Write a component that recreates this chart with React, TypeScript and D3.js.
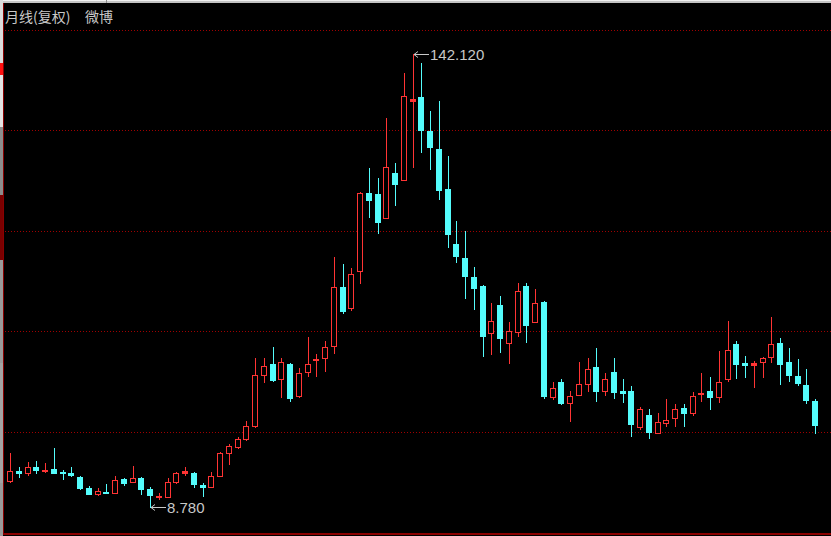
import React from 'react';
import * as d3 from 'd3';

const W = 831;
const H = 536;

// Monthly OHLC, split-adjusted (复权)
const openPrices = [
  16.43, 19.46, 18.88, 20.55, 19.38, 20.05, 18.99, 18.88, 17.52, 14.28,
  12.61, 13.28, 12.99, 16.93, 16.23, 17.23, 13.99, 11.64, 11.81, 16.23,
  18.88, 18.7, 15.26, 14.76, 17.99, 24.76, 26.53, 28.71, 32.62, 47.55,
  50.78, 46.37, 50.78, 41.54, 48.61, 51.96, 52.73, 56.26, 73.54, 67.44,
  78.25, 101.12, 100.82, 93.94, 107.0, 105.03, 128.2, 129.37, 119.54, 114.16,
  102.29, 86.11, 81.99, 76.48, 73.92, 60.09, 68.33, 57.14, 60.38, 73.92,
  63.32, 69.12, 41.25, 45.57, 39.48, 41.66, 44.99, 49.99, 43.07, 48.58,
  43.01, 43.01, 32.24, 35.95, 30.65, 33.51, 34.98, 37.83, 36.36, 41.95,
  42.92, 41.25, 46.37, 56.67, 51.08, 50.58, 51.55, 53.02, 56.97, 51.46,
  47.34, 44.78, 40.07,
];
const highPrices = [
  24.59, 20.64, 22.11, 22.41, 21.64, 26.06, 19.67, 20.47, 17.99, 14.96,
  14.28, 15.46, 17.9, 17.4, 20.94, 17.52, 14.76, 12.81, 17.23, 19.17,
  20.47, 19.17, 15.93, 19.17, 24.88, 27.32, 29.47, 34.18, 52.55, 52.55,
  55.88, 52.55, 51.08, 49.61, 58.73, 53.73, 57.73, 82.28, 80.22, 79.04,
  101.41, 108.48, 105.53, 123.19, 109.95, 136.44, 142.12, 139.38, 125.43, 128.37,
  112.19, 93.05, 90.11, 79.34, 74.0, 68.74, 70.98, 63.15, 74.63, 74.63,
  72.86, 69.5, 45.57, 46.37, 42.92, 51.46, 52.55, 55.49, 48.13, 52.55,
  46.37, 44.4, 38.13, 37.54, 36.36, 40.48, 39.01, 39.01, 42.63, 48.13,
  46.96, 54.79, 63.53, 57.73, 53.32, 51.84, 52.84, 64.79, 58.44, 55.49,
  52.26, 49.31, 40.48,
];
const lowPrices = [
  16.14, 17.7, 18.2, 18.7, 19.17, 18.8, 16.93, 17.9, 13.99, 12.61,
  12.31, 12.95, 12.95, 15.26, 16.15, 12.61, 8.78, 11.05, 11.64, 15.93,
  18.2, 14.76, 12.02, 14.7, 17.95, 21.44, 26.06, 28.5, 32.42, 45.66,
  45.9, 41.25, 40.07, 41.25, 47.34, 47.43, 48.9, 54.02, 65.8, 66.77,
  74.8, 94.23, 89.52, 93.8, 97.67, 104.9, 108.95, 113.36, 108.18, 99.35,
  85.4, 80.98, 70.39, 66.97, 53.32, 53.82, 54.49, 51.25, 59.2, 57.44,
  63.2, 40.95, 40.57, 39.01, 34.18, 41.6, 43.01, 40.07, 41.89, 40.86,
  39.77, 29.68, 31.65, 29.18, 30.6, 32.62, 32.62, 32.62, 35.86, 40.07,
  37.54, 39.77, 45.96, 46.66, 47.13, 44.19, 47.13, 51.55, 44.9, 45.96,
  44.6, 39.48, 30.65,
];
const closePrices = [
  19.38, 18.88, 20.47, 19.58, 19.67, 18.88, 18.7, 18.11, 14.28, 12.69,
  13.58, 12.99, 16.73, 15.76, 17.23, 13.99, 12.22, 11.93, 16.05, 18.7,
  19.38, 15.46, 14.76, 17.9, 24.59, 26.74, 28.71, 32.62, 47.63, 50.28,
  46.07, 51.37, 40.78, 48.13, 50.78, 52.26, 55.79, 73.45, 66.56, 77.28,
  101.12, 99.15, 92.76, 108.77, 103.86, 129.76, 128.79, 119.75, 114.83, 102.0,
  89.14, 82.75, 76.86, 73.33, 59.2, 63.53, 58.61, 60.59, 72.36, 62.35,
  68.74, 41.54, 43.72, 39.3, 41.45, 44.9, 49.31, 43.01, 46.37, 42.72,
  42.42, 33.21, 37.54, 30.94, 33.71, 34.48, 37.54, 36.45, 41.45, 42.25,
  41.25, 45.57, 54.99, 50.78, 50.49, 51.17, 52.55, 56.67, 50.87, 47.55,
  45.19, 40.28, 32.83,
];

// Horizontal guide levels of the price pane
const gridLevels = [30.86, 60.59, 90.02, 119.75, 149.19];

const periodLabel = '月线(复权)';
const stockName = '微博';

const UP = '#ff3434';
const DOWN = '#54fcfc';
const GRID = '#a00000';
const FRAME = '#8a0000';
const TEXT = '#c8c8c8';

// Strip of the neighbouring panel along the left edge
const edgeSegments = [
  { y0: 0, y1: 63, fill: '#dcdcdc' },
  { y0: 63, y1: 75, fill: '#ff1010' },
  { y0: 75, y1: 127, fill: '#e4e4e4' },
  { y0: 127, y1: 195, fill: '#8c8c8c' },
  { y0: 195, y1: 260, fill: '#7a0000' },
  { y0: 260, y1: 363, fill: '#9a9a9a' },
  { y0: 363, y1: 483, fill: '#a4a4a4' },
  { y0: 483, y1: 536, fill: '#9a9a9a' },
];

export default function App() {
  const idx = d3.range(openPrices.length);
  const x = d3.scalePoint<number>().domain(idx).range([10, 815]);
  const y = d3.scaleLinear().domain([8.78, 142.12]).range([507, 54]);
  const fmt = d3.format('.3f');

  const hiIdx = d3.maxIndex(highPrices);
  const loIdx = d3.minIndex(lowPrices);

  const candles = idx.map((i) => {
    const o = openPrices[i];
    const c = closePrices[i];
    const h = highPrices[i];
    const l = lowPrices[i];
    const up = c >= o;
    const cx = Math.round(x(i) as number);
    const yTop = Math.round(y(Math.max(o, c)));
    const yBot = Math.round(y(Math.min(o, c)));
    const yH = Math.round(y(h));
    const yL = Math.round(y(l));
    const color = up ? UP : DOWN;
    const flat = yBot - yTop <= 2;
    return (
      <g key={i}>
        <line x1={cx + 0.5} x2={cx + 0.5} y1={yH} y2={yL + 1} stroke={color} strokeWidth={1} />
        {up && !flat ? (
          <rect
            x={cx - 2.5}
            y={yTop + 0.5}
            width={5}
            height={yBot - yTop}
            fill="#000"
            stroke={color}
            strokeWidth={1}
          />
        ) : (
          <rect x={cx - 3} y={yTop} width={6} height={Math.max(2, yBot - yTop + 1)} fill={color} />
        )}
      </g>
    );
  });

  const marker = (i: number, value: number) => {
    const cx = Math.round(x(i) as number);
    const yy = Math.round(y(value)) + 0.5;
    return (
      <g>
        <line x1={cx + 1} x2={cx + 16} y1={yy} y2={yy} stroke={TEXT} strokeWidth={1} />
        <path
          d={`M${cx + 5},${yy - 3} L${cx + 1},${yy} L${cx + 5},${yy + 3}`}
          fill="none"
          stroke={TEXT}
          strokeWidth={1}
        />
        <text
          x={cx + 17}
          y={yy + 5.5}
          fill={TEXT}
          fontSize={15}
          fontFamily="'Liberation Sans', Arial, sans-serif"
        >
          {fmt(value)}
        </text>
      </g>
    );
  };

  return (
    <svg
      width={W}
      height={H}
      viewBox={`0 0 ${W} ${H}`}
      style={{ position: 'fixed', left: 0, top: 0, display: 'block', background: '#000' }}
    >
      <rect x={0} y={0} width={W} height={H} fill="#000" />

      {/* top window edge */}
      <rect x={0} y={0} width={W} height={3} fill="#c4c4c4" />
      <rect x={0} y={0} width={W} height={1} fill="#f0f0f0" />
      <rect x={106} y={0} width={1} height={3} fill="#8a8a8a" />

      {/* left panel edge */}
      {edgeSegments.map((s, k) => (
        <rect key={k} x={0} y={s.y0} width={3} height={s.y1 - s.y0} fill={s.fill} />
      ))}

      {/* pane frame */}
      <line x1={3.5} x2={3.5} y1={3} y2={535} stroke={FRAME} strokeWidth={1} />
      <rect x={3} y={533} width={W - 3} height={2} fill={FRAME} />

      {/* dotted guide lines */}
      {gridLevels.map((g, k) => {
        const gy = Math.round(y(g)) + 0.5;
        return (
          <line
            key={k}
            x1={5}
            x2={W}
            y1={gy}
            y2={gy}
            stroke={GRID}
            strokeWidth={1}
            strokeDasharray="1 2"
          />
        );
      })}

      {candles}

      {marker(hiIdx, highPrices[hiIdx])}
      {marker(loIdx, lowPrices[loIdx])}

      <text x={5} y={22} fill={TEXT} fontSize={14} fontFamily="'Noto Sans CJK SC', sans-serif">
        {periodLabel}
      </text>
      <text x={85} y={22} fill={TEXT} fontSize={14} fontFamily="'Noto Sans CJK SC', sans-serif">
        {stockName}
      </text>
    </svg>
  );
}
